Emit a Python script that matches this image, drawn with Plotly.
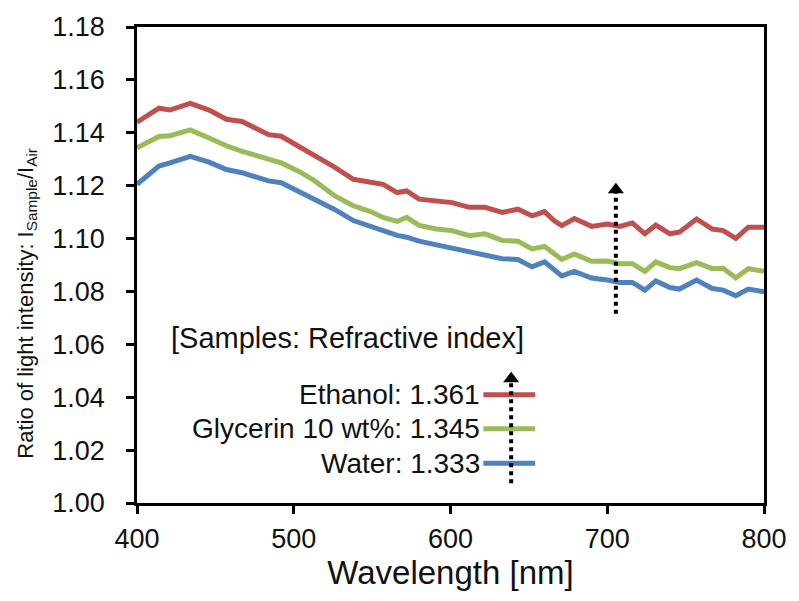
import plotly.graph_objects as go

wavelength = [400, 414, 421, 434, 446, 457, 467, 484, 492, 503, 513, 526, 538, 549, 557,
              566, 572, 580, 591, 601, 612, 622, 633, 643, 652, 660, 666, 671, 679, 690,
              700, 708, 716, 724, 731, 740, 746, 757, 767, 774, 782, 790, 800]

ethanol = [1.1440, 1.1493, 1.1486, 1.1511, 1.1486, 1.1451, 1.1443, 1.1393, 1.1387, 1.1350,
           1.1317, 1.1270, 1.1224, 1.1211, 1.1205, 1.1174, 1.1180, 1.1149, 1.1143, 1.1136,
           1.1118, 1.1118, 1.1099, 1.1111, 1.1086, 1.1102, 1.1068, 1.1049, 1.1076, 1.1046,
           1.1055, 1.1046, 1.1059, 1.1018, 1.1051, 1.1018, 1.1024, 1.1074, 1.1036, 1.1030,
           1.1001, 1.1043, 1.1043]

glycerin = [1.1343, 1.1386, 1.1389, 1.1411, 1.1380, 1.1351, 1.1330, 1.1299, 1.1286, 1.1255,
            1.1220, 1.1162, 1.1124, 1.1102, 1.1080, 1.1065, 1.1080, 1.1050, 1.1036, 1.1030,
            1.1011, 1.1018, 1.0993, 1.0990, 1.0961, 1.0970, 1.0942, 1.0921, 1.0942, 1.0914,
            1.0915, 1.0905, 1.0905, 1.0876, 1.0912, 1.0890, 1.0886, 1.0909, 1.0886, 1.0888,
            1.0851, 1.0886, 1.0876]

water = [1.1205, 1.1274, 1.1286, 1.1311, 1.1289, 1.1261, 1.1249, 1.1218, 1.1211, 1.1180,
         1.1150, 1.1110, 1.1068, 1.1045, 1.1030, 1.1012, 1.1005, 1.0990, 1.0976, 1.0963,
         1.0948, 1.0935, 1.0924, 1.0921, 1.0893, 1.0912, 1.0880, 1.0859, 1.0876, 1.0851,
         1.0843, 1.0834, 1.0834, 1.0805, 1.0840, 1.0815, 1.0809, 1.0843, 1.0811, 1.0805,
         1.0784, 1.0809, 1.0799]

series_names = ["Ethanol: 1.361", "Glycerin 10 wt%: 1.345", "Water: 1.333"]
series_colors = ["#C0504D", "#9BBB59", "#4F81BD"]
series_values = [ethanol, glycerin, water]

x_ticks = [400, 500, 600, 700, 800]
y_ticks = [1.00, 1.02, 1.04, 1.06, 1.08, 1.10, 1.12, 1.14, 1.16, 1.18]

x_title = "Wavelength [nm]"
y_title = "Ratio of light intensity: I<sub>Sample</sub>/I<sub>Air</sub>"

# legend sample positions (data coordinates)
legend_x = [621, 654]
legend_y = [1.0409, 1.0281, 1.0150]
legend_text_x = 620
legend_header = "[Samples: Refractive index]"
legend_header_pos = (534, 1.0625)

# arrows (data coordinates)
arrow_main_x = 705.5
arrow_main_y = [1.0716, 1.1185]
arrow_leg_x = 638.7
arrow_leg_y = [1.0075, 1.0470]

FONT = "Liberation Sans, Arial, sans-serif"
TXT = "#111111"

fig = go.Figure()

for name, col, vals in zip(series_names, series_colors, series_values):
    fig.add_trace(go.Scatter(x=wavelength, y=vals, mode="lines", name=name,
                             line=dict(color=col, width=5), showlegend=False))

# custom legend: text on the left, line sample on the right
for name, col, ly in zip(series_names, series_colors, legend_y):
    fig.add_trace(go.Scatter(x=legend_x, y=[ly, ly], mode="lines",
                             line=dict(color=col, width=5), showlegend=False,
                             hoverinfo="skip"))
    fig.add_annotation(x=legend_text_x, y=ly, text=name, showarrow=False,
                       xanchor="right", yanchor="middle",
                       font=dict(family=FONT, size=28, color=TXT))

fig.add_annotation(x=legend_header_pos[0], y=legend_header_pos[1], text=legend_header,
                   showarrow=False, xanchor="center", yanchor="middle",
                   font=dict(family=FONT, size=29, color=TXT))

# dotted arrows
for ax_, ay_ in [(arrow_main_x, arrow_main_y), (arrow_leg_x, arrow_leg_y)]:
    fig.add_trace(go.Scatter(x=[ax_, ax_], y=ay_, mode="lines",
                             line=dict(color="black", width=4, dash="dot"),
                             showlegend=False, hoverinfo="skip"))
    fig.add_trace(go.Scatter(x=[ax_], y=[ay_[1]], mode="markers",
                             marker=dict(symbol="triangle-up", size=14, color="black"),
                             showlegend=False, hoverinfo="skip"))

# y-axis title as a rotated annotation
fig.add_annotation(xref="paper", yref="paper", x=-0.176, y=0.42, text=y_title,
                   textangle=-90, showarrow=False, xanchor="center", yanchor="middle",
                   font=dict(family=FONT, size=22, color=TXT))

fig.update_layout(
    width=799, height=601,
    margin=dict(l=137, r=27, t=23, b=98),
    paper_bgcolor="white", plot_bgcolor="white",
    font=dict(family=FONT, color=TXT),
    xaxis=dict(range=[400, 800], tickvals=x_ticks, ticktext=[str(v) for v in x_ticks],
               showgrid=False, zeroline=False, showline=True, linecolor="black",
               linewidth=2.5, mirror=True, ticks="outside", ticklen=8, tickwidth=2.5,
               tickcolor="black", tickfont=dict(size=27, family=FONT, color=TXT),
               ticklabelstandoff=2,
               title=dict(text=x_title, font=dict(size=33, family=FONT, color=TXT),
                          standoff=6)),
    yaxis=dict(range=[1.00, 1.18], tickvals=y_ticks, ticktext=[f"{v:.2f}" for v in y_ticks],
               showgrid=False, zeroline=False, showline=True, linecolor="black",
               linewidth=2.5, mirror=True, ticks="outside", ticklen=8, tickwidth=2.5,
               tickcolor="black", tickfont=dict(size=27, family=FONT, color=TXT),
               ticklabelstandoff=16),
)

fig.write_html("out.html")
